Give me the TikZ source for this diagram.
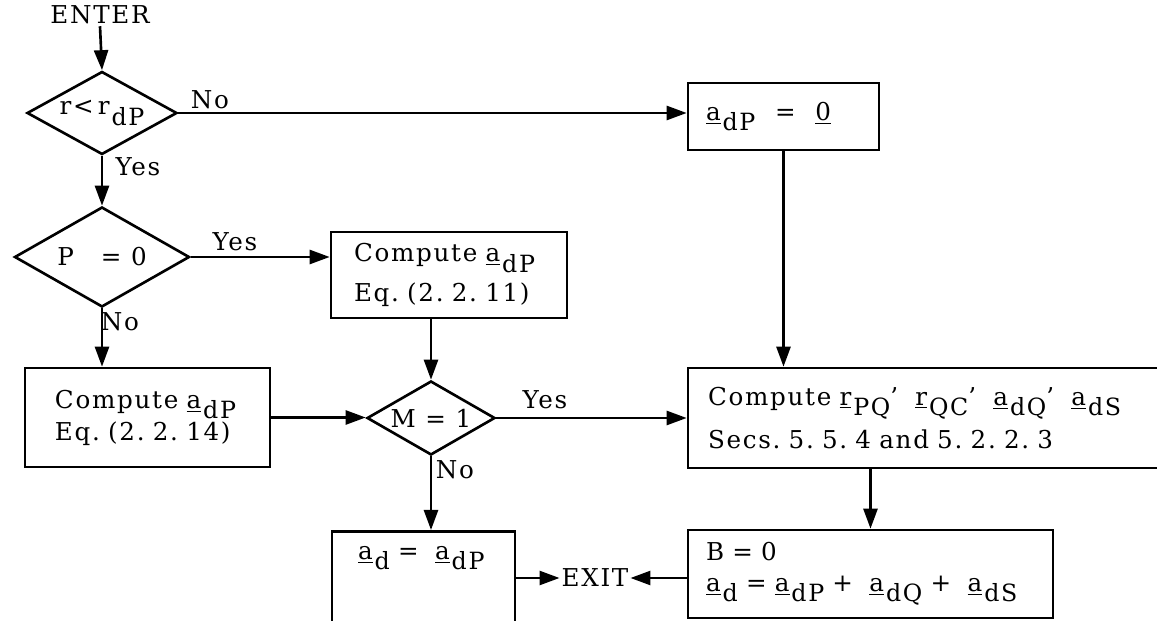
\documentclass[tikz,border=0pt]{standalone}
\usepackage{fontspec}
\setmainfont{DejaVu Serif}[LetterSpace=7]
\usetikzlibrary{arrows.meta,shapes.geometric}
\newcommand{\vsub}[2]{\underline{#1}\hspace{0.08em}\raisebox{-0.8ex}{\fontsize{13.5pt}{14pt}\selectfont #2}}
\newcommand{\lsub}[2]{#1\hspace{0.08em}\raisebox{-0.8ex}{\fontsize{13.5pt}{14pt}\selectfont #2}}
\tikzset{
  flow/.style={line width=1.5pt,-{Triangle[length=0.40cm,width=0.28cm]}},
  decide/.style={draw,diamond,aspect=2,line width=1.5pt,inner sep=0pt},
  boxnode/.style={draw,rectangle,line width=1.5pt,align=left,inner ysep=0.1cm},
  tag/.style={inner sep=1pt}
}
\begin{document}
\begin{tikzpicture}[font=\fontsize{14pt}{16.8pt}\selectfont]
\useasboundingbox (0,0) rectangle (23.14,-12.42);
\node[tag] (enter) at (2.000,-0.300) {ENTER};
\node[decide,minimum width=3.00cm,minimum height=1.66cm] (d1) at (2.040,-2.260) {\lsub{r<\,r}{dP}};
\node[decide,minimum width=3.50cm,minimum height=2.00cm] (d2) at (2.040,-5.140) {P\hspace{1.1em}=\ 0};
\node[decide,minimum width=2.56cm,minimum height=1.48cm] (m) at (8.620,-8.360) {M = 1};
\node[boxnode,minimum width=3.82cm,minimum height=1.34cm,inner xsep=0.36cm,text width=3.10cm] (z) at (15.670,-2.330) {\vsub{a}{dP}\hspace{0.8em}=\hspace{0.8em}\underline{0}};
\node[boxnode,minimum width=4.72cm,minimum height=1.72cm,inner xsep=0.46cm,text width=3.80cm] (c1) at (8.980,-5.500) {Compute \vsub{a}{dP}\\[0.20cm]Eq.\ (2.\ 2.\ 11)};
\node[boxnode,minimum width=4.90cm,minimum height=1.98cm,inner xsep=0.60cm,text width=3.70cm] (c2) at (2.950,-8.350) {Compute \vsub{a}{dP}\\[0.05cm]Eq.\ (2.\ 2.\ 14)};
\node[boxnode,minimum width=9.64cm,minimum height=2.00cm,inner xsep=0.40cm,text width=8.84cm] (r) at (18.580,-8.360) {Compute \vsub{r}{PQ}’\hspace{0.7em}\vsub{r}{QC}’\hspace{0.7em}\vsub{a}{dQ}’\hspace{0.7em}\vsub{a}{dS}\\[0.18cm]Secs.\ 5.\ 5.\ 4 and 5.\ 2.\ 2.\ 3};
\node[boxnode,minimum width=7.30cm,minimum height=1.76cm,inner xsep=0.36cm,text width=6.58cm] (b) at (17.410,-11.480) {B = 0\\[0.02cm]\vsub{a}{d} = \vsub{a}{dP} + \ \vsub{a}{dQ} + \ \vsub{a}{dS}};
\node[boxnode,anchor=north,minimum width=3.66cm,inner xsep=0.52cm,inner ysep=0.30cm,text width=2.62cm,text depth=1.5cm] (e) at (8.470,-10.600) {\vsub{a}{d} = \ \vsub{a}{dP}};
\node[tag] (exit) at (11.900,-11.560) {EXIT};
\draw[flow] (enter.south) -- (d1.north);
\draw[flow] (d1.east) -- (d1.east -| z.west);
\draw[flow] (d1.south) -- (d2.north);
\draw[flow] (d2.east) -- (d2.east -| c1.west);
\draw[flow] (d2.south) -- (d2.south |- c2.north);
\draw[flow] (c1.south -| m.north) -- (m.north);
\draw[flow] (c2.east) -- (c2.east -| m.west);
\draw[flow] (m.east) -- (m.east -| r.west);
\draw[flow] (m.south) -- (m.south |- e.north);
\draw[flow] (z.south) -- (z.south |- r.north);
\draw[flow] (r.south -| b.north) -- (b.north);
\draw[flow] (e.east |- exit.west) -- (exit.west);
\draw[flow] (b.west |- exit.east) -- (exit.east);
\node[tag] at (4.200,-2.000) {No};
\node[tag] at (2.760,-3.340) {Yes};
\node[tag] at (4.700,-4.840) {Yes};
\node[tag] at (2.400,-6.440) {No};
\node[tag] at (10.900,-8.000) {Yes};
\node[tag] at (9.100,-9.400) {No};
\end{tikzpicture}
\end{document}
